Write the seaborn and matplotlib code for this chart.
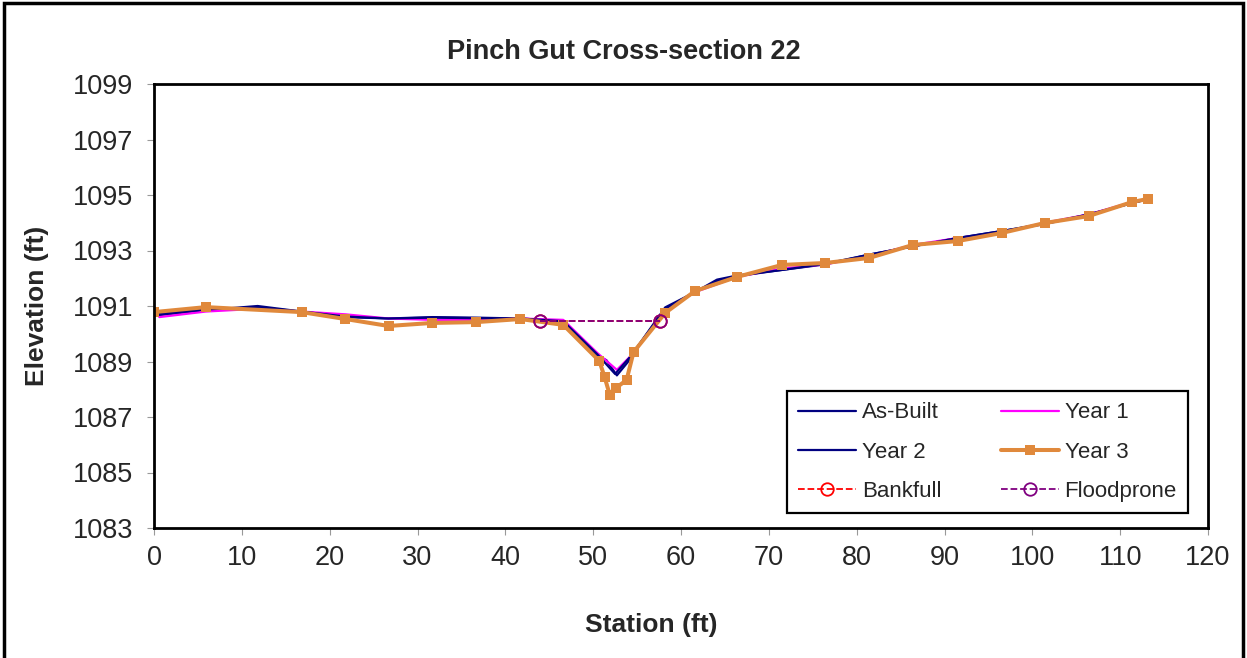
import numpy as np
import pandas as pd
import seaborn as sns
import matplotlib.pyplot as plt
from matplotlib.patches import Rectangle

# survey data
asbuilt_x = [0, 5.9, 11.8, 16.8, 21.8, 26.7, 31.7, 36.7, 41.7, 46.6, 50.5, 51.5, 52.7, 54.0, 55.2,
             58.2, 61.6, 64.1, 66.4, 71.5, 76.4, 81.4, 86.4, 91.5, 96.5, 101.4, 106.4, 112.5]
asbuilt_y = [1090.65, 1090.85, 1091.0, 1090.8, 1090.6, 1090.55, 1090.6, 1090.58, 1090.55, 1090.45,
             1089.2, 1089.05, 1088.5, 1089.0, 1089.6, 1090.95, 1091.5, 1091.95, 1092.1, 1092.3,
             1092.5, 1092.85, 1093.15, 1093.45, 1093.7, 1093.95, 1094.3, 1094.8]

year1_x = [0.6, 5.9, 11.8, 16.8, 21.8, 26.7, 31.7, 36.7, 41.7, 46.6, 50.5, 52.7, 54.6, 58.2,
           61.6, 66.4, 71.5, 76.4, 81.4, 86.4, 91.5, 96.5, 101.4, 106.4, 111.4]
year1_y = [1090.6, 1090.8, 1090.9, 1090.8, 1090.7, 1090.55, 1090.5, 1090.5, 1090.55, 1090.5,
           1089.3, 1088.7, 1089.3, 1090.85, 1091.5, 1092.05, 1092.35, 1092.5, 1092.8, 1093.2,
           1093.45, 1093.65, 1094.0, 1094.3, 1094.75]

year2_x = [0, 5.9, 11.8, 16.8, 21.8, 26.7, 31.7, 36.7, 41.7, 46.6, 50.5, 52.5, 54.3,
           58.2, 61.6, 64.1, 66.4, 71.5, 76.4, 81.4, 86.4, 91.5, 96.5, 101.4, 106.4, 112.5]
year2_y = [1090.7, 1090.88, 1090.95, 1090.8, 1090.62, 1090.55, 1090.58, 1090.56, 1090.55, 1090.45,
           1089.25, 1088.55, 1089.2, 1090.9, 1091.5, 1091.9, 1092.08, 1092.3, 1092.52, 1092.85,
           1093.15, 1093.45, 1093.7, 1093.97, 1094.3, 1094.8]

year3_x = [0, 5.9, 16.8, 21.8, 26.7, 31.7, 36.7, 41.7, 46.6, 50.7, 51.3, 51.9, 52.6, 53.8,
           54.6, 58.2, 61.6, 66.4, 71.5, 76.4, 81.4, 86.4, 91.5, 96.5, 101.4, 106.4, 111.4, 113.2]
year3_y = [1090.78, 1090.96, 1090.78, 1090.53, 1090.28, 1090.39, 1090.42, 1090.53, 1090.32,
           1089.02, 1088.44, 1087.79, 1088.05, 1088.33, 1089.34, 1090.75, 1091.54, 1092.05,
           1092.48, 1092.55, 1092.73, 1093.2, 1093.34, 1093.63, 1093.99, 1094.24, 1094.75, 1094.86]

bankfull_x = [44.0, 57.6]
bankfull_y = [1090.46, 1090.46]
floodprone_x = [44.0, 57.6]
floodprone_y = [1090.46, 1090.46]

sns.set_style('white')
plt.rcParams['font.family'] = ['Liberation Sans', 'DejaVu Sans']

fig = plt.figure(figsize=(12.47, 6.58), dpi=100)
ax = fig.add_axes([154 / 1247, 1 - 528 / 658, 1054 / 1247, 444 / 658])

sns.lineplot(x=asbuilt_x, y=asbuilt_y, ax=ax, color='#000080', lw=1.6, estimator=None, label='As-Built')
sns.lineplot(x=year1_x, y=year1_y, ax=ax, color='#FF00FF', lw=1.6, estimator=None, label='Year 1')
sns.lineplot(x=year2_x, y=year2_y, ax=ax, color='#000080', lw=1.6, estimator=None, label='Year 2')
sns.lineplot(x=year3_x, y=year3_y, ax=ax, color='#E0893C', lw=2.9, marker='s', markersize=7,
             markeredgewidth=0, estimator=None, label='Year 3')
sns.lineplot(x=bankfull_x, y=bankfull_y, ax=ax, color='#FF0000', lw=1.3, linestyle='--', marker='o',
             markersize=9, markerfacecolor='none', markeredgecolor='#FF0000', markeredgewidth=1.3,
             estimator=None, label='Bankfull')
sns.lineplot(x=floodprone_x, y=floodprone_y, ax=ax, color='#800080', lw=1.3, linestyle='--', marker='o',
             markersize=9, markerfacecolor='none', markeredgecolor='#800080', markeredgewidth=1.3,
             estimator=None, label='Floodprone')

ax.set_xlim(0, 120)
ax.set_ylim(1083, 1099)
ax.set_xticks(np.arange(0, 121, 10))
ax.set_yticks(np.arange(1083, 1100, 2))
ax.tick_params(axis='both', which='major', labelsize=19.5, length=5, width=0.8, color='#999999',
               direction='out', left=True, bottom=True)
ax.tick_params(axis='y', pad=10)
ax.tick_params(axis='x', pad=7)
for s in ax.spines.values():
    s.set_visible(True)
    s.set_color('black')
    s.set_linewidth(2)
ax.set_xlabel('')
ax.set_ylabel('')

fig.text(0.5, 1 - 52 / 658, 'Pinch Gut Cross-section 22', ha='center', va='center',
         fontsize=19.5, fontweight='bold')
fig.text(37 / 1247, 1 - 306 / 658, 'Elevation (ft)', ha='center', va='center', rotation=90,
         fontsize=19, fontweight='bold')
fig.text(651 / 1247, 1 - 625 / 658, 'Station (ft)', ha='center', va='center',
         fontsize=19, fontweight='bold')

# row-major order like the original legend
handles, labels = ax.get_legend_handles_labels()
order = [0, 2, 4, 1, 3, 5]
leg = ax.legend([handles[i] for i in order], [labels[i] for i in order],
                loc='lower right', bbox_to_anchor=(0.981, 0.034), ncol=2, fontsize=16,
                frameon=True, fancybox=False, edgecolor='black', borderaxespad=0,
                handlelength=2.6, handletextpad=0.25, columnspacing=2.7, labelspacing=0.82,
                borderpad=0.5)
leg.get_frame().set_linewidth(1.6)
leg.get_frame().set_alpha(1)

fig.patches.append(Rectangle((0.003, -0.01), 0.994, 1.005, transform=fig.transFigure,
                             fill=False, edgecolor='black', linewidth=2.5))

fig.savefig('out.png', dpi=100)
